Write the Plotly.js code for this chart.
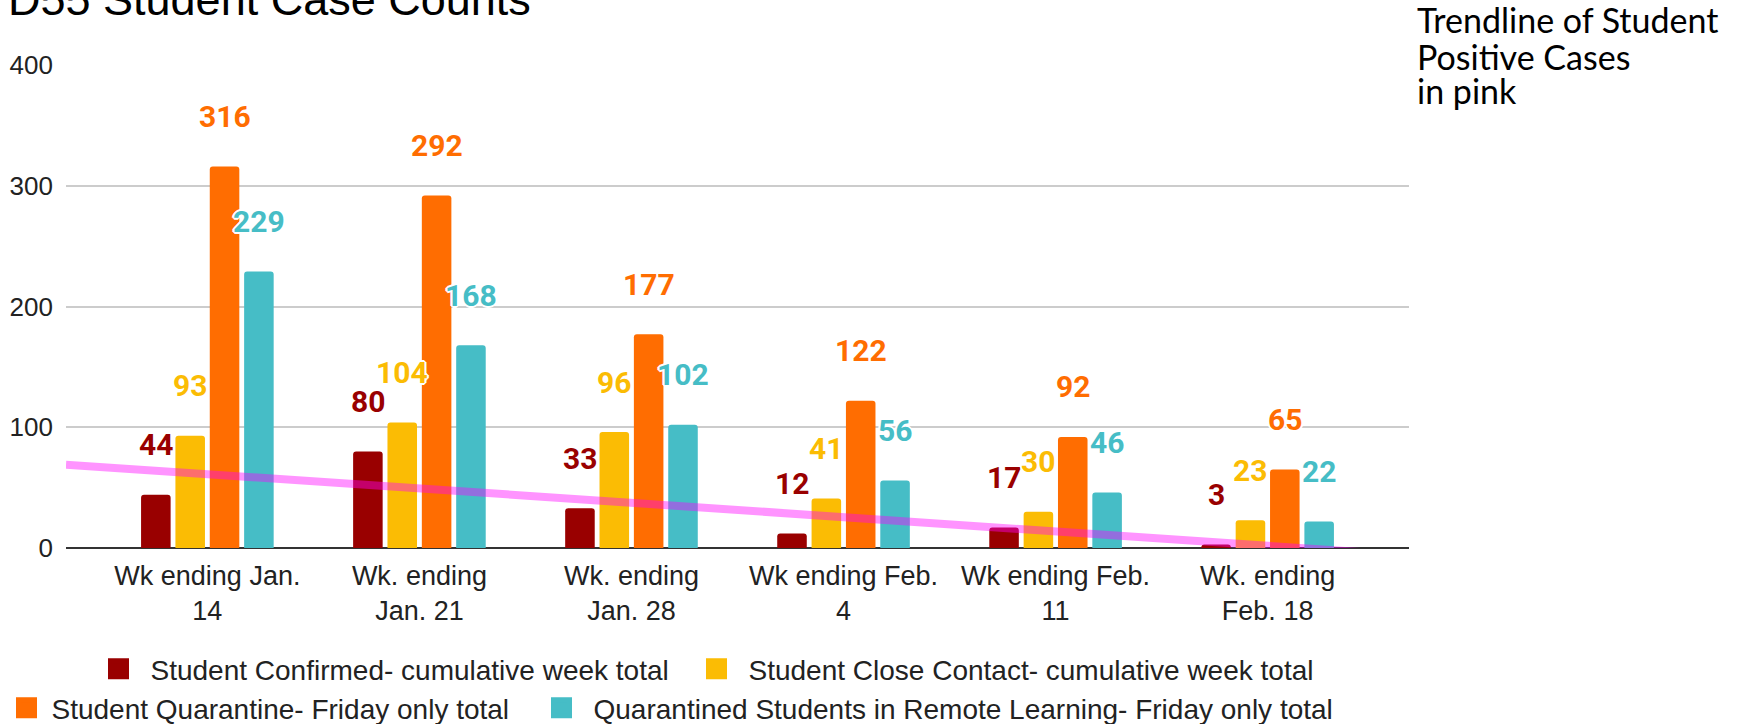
<!DOCTYPE html>
<html>
<head>
<meta charset="utf-8">
<script src="https://cdn.plot.ly/plotly-3.0.1.min.js"></script>
<style>
  html, body { margin: 0; padding: 0; background: #fff; }
  #chart { width: 1754px; height: 724px; }
</style>
</head>
<body>
<div id="chart"></div>
<script>
// ---------------- data ----------------
const categories = [
  "Wk ending Jan.<br>14",
  "Wk. ending<br>Jan. 21",
  "Wk. ending<br>Jan. 28",
  "Wk ending Feb.<br>4",
  "Wk ending Feb.<br>11",
  "Wk. ending<br>Feb. 18"
];
const weekIndex = [1, 2, 3, 4, 5, 6];
const studentConfirmed = [44, 80, 33, 12, 17, 3];
const studentCloseContact = [93, 104, 96, 41, 30, 23];
const studentQuarantine = [316, 292, 177, 122, 92, 65];
const quarantinedRemote = [229, 168, 102, 56, 46, 22];

const seriesNames = [
  "Student Confirmed- cumulative week total",
  "Student Close Contact- cumulative week total",
  "Student Quarantine- Friday only total",
  "Quarantined Students in Remote Learning- Friday only total"
];
const seriesValues = [studentConfirmed, studentCloseContact, studentQuarantine, quarantinedRemote];
const seriesColors = ["#990000", "#fbbc04", "#ff6d01", "#46bdc6"];

const yTicks = [0, 100, 200, 300, 400];
const titleText = "D55 Student Case Counts";
const noteLines = ["Trendline of Student", "Positive Cases", "in pink"];

// ---------------- layout constants ----------------
const W = 1754, H = 724;
const M = { l: 66, r: 345, t: 65, b: 176 };
const plotW = W - M.l - M.r;
const plotH = H - M.t - M.b;
const xRange = [1 / 3, 6 + 2 / 3];
const bargap = 0.352;
const slot = (1 - bargap) / 4;

// linear trendline (least squares) of confirmed cases
const n = weekIndex.length;
const mx = weekIndex.reduce((a, b) => a + b, 0) / n;
const my = studentConfirmed.reduce((a, b) => a + b, 0) / n;
let sxy = 0, sxx = 0;
for (let i = 0; i < n; i++) {
  sxy += (weekIndex[i] - mx) * (studentConfirmed[i] - my);
  sxx += (weekIndex[i] - mx) * (weekIndex[i] - mx);
}
const slope = sxy / sxx;
const intercept = my - slope * mx;
const trendX = [xRange[0], xRange[1]];
const trendY = trendX.map(x => intercept + slope * x);

// ---------------- traces ----------------
const traces = [];
seriesValues.forEach((vals, i) => {
  traces.push({
    type: "bar",
    x: weekIndex,
    y: vals,
    name: seriesNames[i],
    marker: { color: seriesColors[i] },
    showlegend: false,
    hoverinfo: "x+y"
  });
});
traces.push({
  type: "scatter",
  mode: "lines",
  x: trendX,
  y: trendY,
  line: { color: "rgba(255,0,255,0.42)", width: 8 },
  showlegend: false,
  hoverinfo: "skip"
});
// legend entries (one legend per entry for exact placement)
const legendIds = ["legend", "legend2", "legend3", "legend4"];
seriesNames.forEach((nm, i) => {
  traces.push({
    type: "scatter",
    mode: "markers",
    x: [null],
    y: [null],
    name: nm,
    legend: legendIds[i],
    marker: { symbol: "square", size: 16, color: seriesColors[i], line: { color: seriesColors[i], width: 5 } },
    hoverinfo: "skip"
  });
});

// ---------------- annotations ----------------
const pxToPaperY = py => (H - M.b - py) / plotH;
const pxToPaperX = px => (px - M.l) / plotW;
const annotations = [];
seriesValues.forEach((vals, s) => {
  vals.forEach((v, k) => {
    annotations.push({
      x: weekIndex[k] + (s - 1.5) * slot,
      y: v,
      xref: "x", yref: "y",
      text: String(v),
      showarrow: false,
      xanchor: "center", yanchor: "middle",
      yshift: 50,
      font: {
        family: "Roboto, Arial, sans-serif", size: 30, weight: 700, color: seriesColors[s],
        shadow: "2px 0 0 #fff, -2px 0 0 #fff, 0 2px 0 #fff, 0 -2px 0 #fff, 1px 1px 0 #fff, -1px -1px 0 #fff, 1px -1px 0 #fff, -1px 1px 0 #fff"
      }
    });
  });
});
// title (cut off at top like the reference)
annotations.push({
  x: pxToPaperX(6), y: pxToPaperY(27),
  xref: "paper", yref: "paper",
  xanchor: "left", yanchor: "bottom",
  text: titleText, showarrow: false,
  font: { family: "Liberation Sans, Arial, sans-serif", size: 45, color: "#000" }
});
// side note
const noteCenters = [20, 56, 91];
noteLines.forEach((t, i) => {
  annotations.push({
    x: pxToPaperX(1416), y: pxToPaperY(noteCenters[i]),
    xref: "paper", yref: "paper",
    xanchor: "left", yanchor: "middle",
    borderpad: 0,
    text: t, showarrow: false,
    font: { family: "Lato, 'Open Sans', sans-serif", size: 34, color: "#000" }
  });
});

const legendFont = { family: "Liberation Sans, Arial, sans-serif", size: 28, color: "#222" };
// text start x, row center y and icon slot width of each legend entry (pixels)
const legendTextX = [152, 750, 53, 595];
const legendRowY = [669, 669, 708, 708];
const legendItemW = [54, 54, 40, 54];

const layout = {
  width: W, height: H,
  margin: { l: M.l, r: M.r, t: M.t, b: M.b, autoexpand: false },
  paper_bgcolor: "#fff",
  plot_bgcolor: "#fff",
  barmode: "group",
  bargap: bargap,
  bargroupgap: 0.14,
  barcornerradius: 3,
  xaxis: {
    range: xRange,
    tickmode: "array",
    tickvals: weekIndex,
    ticktext: categories,
    showgrid: false,
    zeroline: false,
    showline: false,
    ticks: "",
    tickfont: { family: "Liberation Sans, Arial, sans-serif", size: 27, color: "#222" },
    ticklabelstandoff: 9,
    fixedrange: true
  },
  yaxis: {
    range: [0, 400],
    tickmode: "array",
    tickvals: yTicks,
    showgrid: true,
    gridcolor: "#cccccc",
    gridwidth: 2,
    zeroline: true,
    zerolinecolor: "#333333",
    zerolinewidth: 2,
    showline: false,
    ticks: "",
    ticklabelstandoff: 12,
    tickfont: { family: "Liberation Sans, Arial, sans-serif", size: 26, color: "#222" },
    fixedrange: true
  },
  annotations: annotations,
  showlegend: true
};
legendIds.forEach((id, i) => {
  layout[id] = {
    orientation: "h",
    xref: "container", yref: "container",
    x: Math.max(0, legendTextX[i] - legendItemW[i] - 11.5) / W, xanchor: "left",
    y: 1 - legendRowY[i] / H, yanchor: "middle",
    font: legendFont,
    itemwidth: legendItemW[i],
    bgcolor: "rgba(0,0,0,0)",
    itemclick: false, itemdoubleclick: false
  };
});

Plotly.newPlot("chart", traces, layout, { displayModeBar: false, staticPlot: true });
</script>
</body>
</html>
